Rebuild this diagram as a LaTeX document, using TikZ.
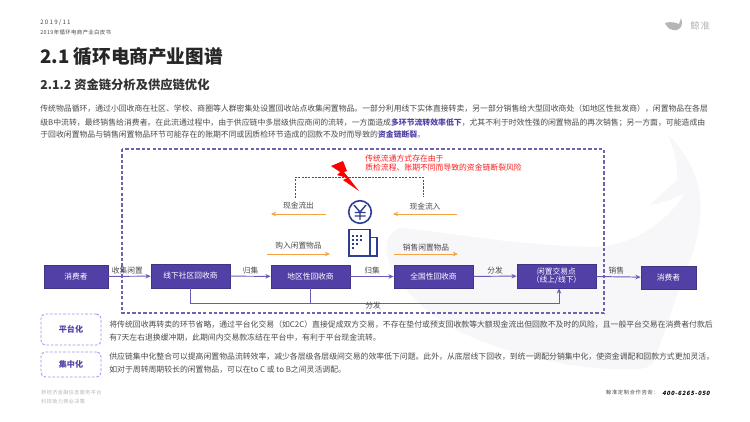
\documentclass[tikz,border=0pt]{standalone}
\usepackage{fontspec}
\setmainfont{Noto Sans CJK SC}
\usetikzlibrary{arrows.meta,positioning,calc}
\definecolor{box-purple}{HTML}{5240A6}
\definecolor{line-purple}{HTML}{6A5BB8}
\definecolor{dash-purple}{HTML}{6F62AE}
\definecolor{pill-purple}{HTML}{A68CF2}
\definecolor{cash-orange}{HTML}{F7A244}
\definecolor{icon-blue}{HTML}{2F3F8F}
\definecolor{body-grey}{HTML}{4A4A4A}
\definecolor{foot-grey}{HTML}{B5B5B5}
\definecolor{whale-grey}{HTML}{F7F6F8}
\newcommand{\fs}[1]{\fontsize{#1}{#1}\selectfont}

\begin{document}
\begin{tikzpicture}[
  x=0.02cm, y=-0.02cm, >={Stealth[length=3pt,width=2.6pt]},
  actor/.style={draw=box-purple!80!black, fill=box-purple, text=white, inner sep=0pt,
    align=center, font=\fs{4.4}},
  flow/.style={draw=line-purple, line width=0.55pt},
  cash/.style={draw=cash-orange, line width=0.55pt, ->},
  para/.style={anchor=west, inner sep=0pt, text=body-grey, font=\fs{4.47}},
  elabel/.style={inner sep=0pt, text=body-grey, font=\fs{4.4}},
  pill/.style={draw=pill-purple, dash pattern=on 1.5pt off 1pt, rounded corners=2.5pt, line width=0.5pt,
    inner sep=0pt, text=box-purple, font=\fs{4.6}\bfseries},
]
  \useasboundingbox (0,0) rectangle (750,422);
  % watermark
  \fill[whale-grey] (400,228) .. controls (450,232) and (490,243) .. (590,247)
    .. controls (630,247) and (665,225) .. (685,193) .. controls (672,200) and (660,203) .. (650,205)
    .. controls (660,195) and (670,187) .. (677,180) .. controls (678,165) and (674,148) .. (668,135)
    .. controls (685,150) and (698,175) .. (700,197) .. controls (703,225) and (695,250) .. (683,277)
    .. controls (672,310) and (662,340) .. (653,363) .. controls (648,368) and (642,369) .. (637,369)
    .. controls (610,370) and (585,368) .. (560,363) .. controls (520,355) and (485,345) .. (457,330)
    .. controls (430,315) and (410,298) .. (397,277) .. controls (390,265) and (385,255) .. (387,245)
    .. controls (388,235) and (393,230) .. (400,228) -- cycle;
  % header
  \node[anchor=west, inner sep=0pt, text=body-grey, font=\fs{3.5}] (month) at (40,23)
    {\addfontfeature{LetterSpace=20}2019/11};
  \node[anchor=west, inner sep=0pt, text=body-grey, font=\fs{3.1}] (book) at (40,32)
    {\addfontfeature{LetterSpace=6}2019年循环电商产业白皮书};
  \node[anchor=west, inner sep=0pt, text=black!85, font=\fs{10.6}\bfseries] (title) at (40,57)
    {2.1 循环电商产业图谱};
  \node[anchor=west, inner sep=0pt, text=black!80, font=\fs{7}\bfseries] (subtitle) at (40,84.5)
    {2.1.2 资金链分析及供应链优化};
  % logo
  \fill[foot-grey] (665,23) .. controls (672,21) and (676,23) .. (679,24)
    .. controls (680,22) and (680,20) .. (681,18) .. controls (683,24) and (682,28) .. (677,30)
    .. controls (671,31) and (667,28) .. (665,23) -- cycle;
  \node[anchor=west, inner sep=0pt, text=foot-grey, font=\fs{5.4}] (brand) at (690,26)
    {\addfontfeature{LetterSpace=8}鲸准};
  % intro text
  \node[para] (intro1) at (40,109) {传统物品循环，通过小回收商在社区、学校、商圈等人群密集处设置回收站点收集闲置物品。一部分利用线下实体直接转卖，另一部分销售给大型回收商处（如地区性批发商），闲置物品在各层};
  \node[para] (intro2) at (40,122.5) {级B中流转，最终销售给消费者。在此流通过程中，由于供应链中多层级供应商间的流转，一方面造成\textcolor{box-purple}{\bfseries 多环节流转效率低下}，尤其不利于时效性强的闲置物品的再次销售；另一方面，可能造成由};
  \node[para] (intro3) at (40,135) {于回收闲置物品与销售闲置物品环节可能存在的账期不同或因质检环节造成的回款不及时而导致的\textcolor{box-purple}{\bfseries 资金链断裂}。};
  % frame
  \draw[dash-purple, line width=0.7pt, dash pattern=on 1.9pt off 1.2pt] (122,149) rectangle (604,313);
  % chain
  \node[actor, minimum width=1.28cm, minimum height=0.46cm] (buyer) at (76,276.5) {消费者};
  \node[actor, minimum width=1.58cm, minimum height=0.48cm] (local) at (190.5,276) {线下社区回收商};
  \node[actor, minimum width=1.58cm, minimum height=0.46cm] (region) at (310.5,276.5) {地区性回收商};
  \node[actor, minimum width=1.58cm, minimum height=0.46cm] (nation) at (433.5,276.5) {全国性回收商};
  \node[actor, minimum width=1.58cm, minimum height=0.48cm] (market) at (556.5,276) {闲置交易点\\（线上/线下）};
  \node[actor, minimum width=1.10cm, minimum height=0.46cm] (enduser) at (668.5,277.5) {消费者};
  \draw[flow, ->] (buyer) -- node[elabel, above=1pt, pos=0.45] (collect) {收集闲置} (local);
  \draw[flow, ->] (local) -- node[elabel, above=1pt] (gather1) {归集} (region);
  \draw[flow, ->] (region) -- node[elabel, above=1pt] (gather2) {归集} (nation);
  \draw[flow, ->] (nation) -- node[elabel, above=1pt] (ship1) {分发} (market);
  \draw[flow, ->] (market) -- node[elabel, above=1pt, pos=0.45] (sell) {销售} (enduser);
  \coordinate (busl) at (local.south |- 0,303);
  \coordinate (busr) at (559,303);
  \draw[flow, ->] (local.south) -- (busl) -- (busr) -- (busr |- market.south);
  \draw[flow] (region.south) -- (region.south |- busl);
  \node[elabel] (ship2) at (373,305.5) {分发};
  % cash and goods
  \coordinate (outa) at (326,214); \coordinate (outb) at (271,214);
  \coordinate (ina) at (457,214); \coordinate (inb) at (393,214);
  \coordinate (buya) at (267,254); \coordinate (buyb) at (330,254);
  \coordinate (sella) at (394,254); \coordinate (sellb) at (458,254);
  \draw[cash] (outa) -- node[elabel, above=2.5pt] (cashout) {现金流出} (outb);
  \draw[cash] (ina) -- node[elabel, above=2pt] (cashin) {现金流入} (inb);
  \draw[cash] (buya) -- node[elabel, above=2.5pt] (goodsin) {购入闲置物品} (buyb);
  \draw[cash] (sella) -- node[elabel, above=1.5pt] (goodsout) {销售闲置物品} (sellb);
  \coordinate (riskl) at (295.5,198); \coordinate (riskr) at (423,197);
  \draw[box-purple, line width=0.45pt, dash pattern=on 1.2pt off 0.7pt] (riskl) |- (riskr |- 0,177.5) -- (riskr);
  % risk
  \fill[red] (331,166) -- (343,161) -- (347,171) -- (344,172) -- (359,191) -- (343,180)
    -- (347,178) -- (337,175) -- (340,172) -- cycle;
  \node[anchor=west, inner sep=0pt, text=red!90!white, align=left, font=\fs{4.45}] (risk) at (365,163)
    {传统流通方式存在由于\\[1.2pt]质检流程、账期不同而导致的资金链断裂风险};
  % icons
  \draw[icon-blue, line width=0.9pt] (360,212) circle (11.3);
  \draw[icon-blue, line width=0.8pt] (354,205) -- (360,212) -- (366,205) (360,212) -- (360,220)
    (354.5,212.5) -- (365.5,212.5) (354.5,216) -- (365.5,216);
  \draw[icon-blue, line width=0.9pt, fill=white] (349,229.5) rectangle (370,256);
  \draw[icon-blue, line width=0.7pt] (370,237.5) -- (377,237.5) -- (377,256) -- (370,256);
  \foreach \px/\py in {353/236,357/236,361/236,353/240,357/240,361/240,353/244,357/244,353/248}
    \fill[icon-blue] (\px-1,\py-1) rectangle (\px+1,\py+1);
  % pills
  \node[pill, minimum width=1.2cm, minimum height=0.62cm] (platform) at (71,329.5) {平台化};
  \node[pill, minimum width=1.2cm, minimum height=0.5cm] (central) at (71,364.5) {集中化};
  \node[para] (plat1) at (109,324.5) {将传统回收再转卖的环节省略，通过平台化交易（如C2C）直接促成双方交易，不存在垫付或预支回收款等大额现金流出但回款不及时的风险，且一般平台交易在消费者付款后};
  \node[para] (plat2) at (109,338) {有7天左右退换缓冲期，此期间内交易款冻结在平台中，有利于平台现金流转。};
  \node[para] (cent1) at (109,357) {供应链集中化整合可以提高闲置物品流转效率，减少各层级各层级间交易的效率低下问题。此外，从底层线下回收，到统一调配分销集中化，使资金调配和回款方式更加灵活，};
  \node[para] (cent2) at (109,370) {如对于周转周期较长的闲置物品，可以在to C 或 to B之间灵活调配。};
  % footer
  \node[anchor=west, inner sep=0pt, text=foot-grey, font=\fs{2.9}] (foot1) at (41,393)
    {\addfontfeature{LetterSpace=8}新经济金融信息服务平台};
  \node[anchor=west, inner sep=0pt, text=foot-grey, font=\fs{2.9}] (foot2) at (41,402)
    {\addfontfeature{LetterSpace=8}科技助力商业决策};
  \node[anchor=east, inner sep=0pt, text=body-grey, font=\fs{3}] (hotline) at (659,393)
    {\addfontfeature{LetterSpace=12}鲸准定制合作咨询：};
  \node[anchor=west, inner sep=0pt, text=black, font=\fs{3.3}\bfseries] (phone) at (662,393)
    {\addfontfeature{LetterSpace=12,FakeSlant=0.2}400-6265-050};
\end{tikzpicture}
\end{document}
